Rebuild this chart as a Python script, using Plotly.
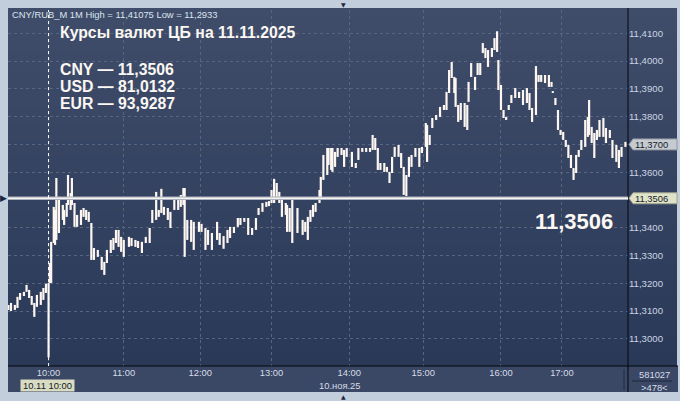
import base64
import struct
import zlib
import plotly.graph_objects as go

# ---------------- data ----------------
bar_index = [0, 2, 5, 7, 9, 12, 14, 16, 18, 20, 22, 25, 27, 29, 31, 32, 33, 35, 36, 37,
             39, 42, 43, 45, 46, 48, 49, 51, 53, 56, 58, 60, 62, 64, 66, 69, 72, 74, 76, 79,
             81, 83, 85, 87, 89, 93, 95, 98, 100, 103, 106, 109, 111, 114, 116, 118, 120, 123, 125, 128,
             131, 133, 135, 136, 138, 141, 143, 147, 149, 152, 154, 157, 161, 163, 166, 169, 171, 174, 177, 179,
             182, 185, 188, 191, 193, 196, 199, 201, 203, 205, 207, 209, 211, 214, 215, 217, 219, 223, 227, 229,
             231, 233, 235, 237, 240, 241, 243, 246, 247, 249, 250, 252, 254, 257, 259, 261, 265, 268, 270, 273,
             276, 279, 281, 283, 285, 287, 290, 292, 294, 296, 298, 301, 303, 305, 307, 309, 311, 314, 317, 319,
             322, 323, 325, 327, 330, 333, 336, 338, 340, 342, 344, 345, 347, 349, 352, 354, 355, 357, 360, 362,
             364, 366, 368, 370, 373, 375, 377, 378, 380, 382, 384, 386, 388, 391, 394, 397, 400, 402, 404, 407,
             409, 411, 414, 417, 419, 420, 422, 424, 426, 428, 430, 432, 434, 436, 438, 440, 442, 445, 447, 448,
             450, 452, 454, 456, 459, 461, 464, 466, 469, 471, 473, 476]

bar_high = [11.3122, 11.3129, 11.3122, 11.3151, 11.3165, 11.3169, 11.3194, 11.3176, 11.3154, 11.3129,
            11.3158, 11.3169, 11.3183, 11.3198, 11.3201, 11.3273, 11.3349, 11.3475, 11.3464, 11.3579,
            11.3511, 11.3482, 11.3464, 11.3489, 11.3590, 11.3525, 11.3579, 11.3489, 11.3446, 11.3464,
            11.3471, 11.3464, 11.3457, 11.3417, 11.3327, 11.3320, 11.3295, 11.3277, 11.3320, 11.3356,
            11.3363, 11.3392, 11.3392, 11.3367, 11.3356, 11.3367, 11.3363, 11.3356, 11.3352, 11.3349,
            11.3367, 11.3399, 11.3464, 11.3529, 11.3464, 11.3540, 11.3475, 11.3471, 11.3457, 11.3504,
            11.3500, 11.3518, 11.3543, 11.3543, 11.3428, 11.3428, 11.3421, 11.3421, 11.3414, 11.3399,
            11.3392, 11.3381, 11.3421, 11.3381, 11.3370, 11.3392, 11.3403, 11.3403, 11.3435, 11.3435,
            11.3435, 11.3435, 11.3399, 11.3435, 11.3471, 11.3489, 11.3493, 11.3496, 11.3536, 11.3576,
            11.3561, 11.3529, 11.3500, 11.3489, 11.3482, 11.3471, 11.3500, 11.3471, 11.3428, 11.3421,
            11.3439, 11.3464, 11.3482, 11.3489, 11.3536, 11.3583, 11.3662, 11.3687, 11.3687, 11.3687,
            11.3687, 11.3673, 11.3687, 11.3687, 11.3680, 11.3687, 11.3673, 11.3633, 11.3687, 11.3687,
            11.3687, 11.3687, 11.3734, 11.3723, 11.3687, 11.3633, 11.3633, 11.3619, 11.3601, 11.3655,
            11.3691, 11.3698, 11.3669, 11.3619, 11.3590, 11.3655, 11.3662, 11.3687, 11.3687, 11.3691,
            11.3777, 11.3770, 11.3734, 11.3795, 11.3806, 11.3835, 11.3842, 11.3889, 11.3968, 11.3997,
            11.3943, 11.3939, 11.3842, 11.3849, 11.3849, 11.3842, 11.3925, 11.3993, 11.3943, 11.3993,
            11.3993, 11.4065, 11.4047, 11.4040, 11.4047, 11.4083, 11.41075, 11.4004, 11.3914, 11.3824,
            11.3799, 11.3842, 11.3878, 11.3903, 11.3889, 11.3896, 11.3903, 11.3885, 11.3831, 11.3982,
            11.3950, 11.3950, 11.3950, 11.3950, 11.3925, 11.3892, 11.3867, 11.3824, 11.3752, 11.3745,
            11.3716, 11.3698, 11.3662, 11.3615, 11.3662, 11.3680, 11.3716, 11.3788, 11.3799, 11.3860,
            11.3763, 11.3741, 11.3752, 11.3788, 11.3795, 11.3759, 11.3752, 11.3716, 11.3698, 11.3680,
            11.3691, 11.3709]

bar_low = [11.3104, 11.3100, 11.3104, 11.3111, 11.3140, 11.3154, 11.3169, 11.3147, 11.3122, 11.3079,
           11.3115, 11.3122, 11.3140, 11.3165, 11.2933, 11.3201, 11.3201, 11.3345, 11.3338, 11.3356,
           11.3381, 11.3428, 11.3410, 11.3439, 11.3482, 11.3464, 11.3482, 11.3403, 11.3403, 11.3410,
           11.3439, 11.3428, 11.3421, 11.3284, 11.3284, 11.3295, 11.3248, 11.3230, 11.3273, 11.3309,
           11.3320, 11.3345, 11.3331, 11.3313, 11.3295, 11.3331, 11.3334, 11.3331, 11.3327, 11.3309,
           11.3345, 11.3345, 11.3417, 11.3428, 11.3439, 11.3453, 11.3446, 11.3428, 11.3399, 11.3464,
           11.3464, 11.3475, 11.3482, 11.3295, 11.3356, 11.3349, 11.3320, 11.3385, 11.3385, 11.3320,
           11.3338, 11.3320, 11.3356, 11.3338, 11.3324, 11.3345, 11.3363, 11.3381, 11.3403, 11.3410,
           11.3421, 11.3374, 11.3374, 11.3392, 11.3446, 11.3457, 11.3475, 11.3478, 11.3489, 11.3489,
           11.3500, 11.3489, 11.3439, 11.3446, 11.3385, 11.3385, 11.3345, 11.3381, 11.3374, 11.3385,
           11.3356, 11.3421, 11.3439, 11.3457, 11.3489, 11.3507, 11.3572, 11.3590, 11.3626, 11.3608,
           11.3601, 11.3619, 11.3655, 11.3662, 11.3619, 11.3655, 11.3619, 11.3615, 11.3644, 11.3673,
           11.3673, 11.3673, 11.3680, 11.3680, 11.3608, 11.3608, 11.3601, 11.3601, 11.3561, 11.3597,
           11.3655, 11.3655, 11.3615, 11.3518, 11.3514, 11.3583, 11.3619, 11.3655, 11.3619, 11.3669,
           11.3691, 11.3637, 11.3698, 11.3759, 11.3788, 11.3799, 11.3824, 11.3824, 11.3885, 11.3939,
           11.3885, 11.3835, 11.3781, 11.3788, 11.3763, 11.3752, 11.3853, 11.3943, 11.3896, 11.3950,
           11.3950, 11.4029, 11.4011, 11.3979, 11.4015, 11.4040, 11.4033, 11.3896, 11.3824, 11.3795,
           11.3788, 11.3824, 11.3849, 11.3867, 11.3867, 11.3842, 11.3849, 11.3824, 11.3781, 11.3806,
           11.3925, 11.3925, 11.3921, 11.3907, 11.3907, 11.3885, 11.3842, 11.3752, 11.3734, 11.3716,
           11.3691, 11.3651, 11.3615, 11.3572, 11.3597, 11.3655, 11.3680, 11.3691, 11.3727, 11.3734,
           11.3705, 11.3651, 11.3716, 11.3727, 11.3727, 11.3705, 11.3723, 11.3651, 11.3637, 11.3615,
           11.3655, 11.3691]

time_tick_index = [31, 89, 148, 203, 263, 320, 380, 427]
time_tick_text = ["10:00", "11:00", "12:00", "13:00", "14:00", "15:00", "16:00", "17:00"]
price_ticks = [11.30, 11.31, 11.32, 11.33, 11.34, 11.35, 11.36, 11.37, 11.38, 11.39, 11.40, 11.41]

instrument = "CNY/RUB_M 1M"
session_high = "11,41075"
session_low = "11,2933"
cbr_date = "11.11.2025"
cbr_codes = ["CNY", "USD", "EUR"]
cbr_values = ["11,3506", "81,0132", "93,9287"]
ref_price = 11.3506
last_price = 11.3700
volume_text = "581027"
bars_text = ">478<"
cursor_index = 31
cursor_text = "10.11 10:00"
date_text = "10.ноя.25"

# ---------------- helpers for layout ----------------
W, H = 680, 401
PL, PR, PT, PB = 8, 628, 10, 366
YMIN, YMAX = 11.2902, 11.4184


def px(x):
    return (x - PL) / (PR - PL)


def py(y):
    return (PB - y) / (PB - PT)


def fmt(v):
    return f"{v:.4f}".replace(".", ",")


def gradient_png(top, bottom, n=64):
    rows = b""
    for k in range(n):
        t = k / (n - 1)
        rgb = [round(a + (c - a) * t) for a, c in zip(top, bottom)]
        rows += b"\x00" + bytes(rgb)

    def chunk(tag, data):
        return (struct.pack(">I", len(data)) + tag + data +
                struct.pack(">I", zlib.crc32(tag + data) & 0xFFFFFFFF))

    ihdr = struct.pack(">IIBBBBB", 1, n, 8, 2, 0, 0, 0)
    png = (b"\x89PNG\r\n\x1a\n" + chunk(b"IHDR", ihdr) +
           chunk(b"IDAT", zlib.compress(rows)) + chunk(b"IEND", b""))
    return "data:image/png;base64," + base64.b64encode(png).decode()


# ---------------- price bars (vertical high-low strokes) ----------------
xs, ys = [], []
for i, h, l in zip(bar_index, bar_high, bar_low):
    xs += [i, i, None]
    ys += [l, h, None]

FONT = "Liberation Sans, Arial, sans-serif"
fig = go.Figure()
fig.add_trace(go.Scatter(x=xs, y=ys, mode="lines", connectgaps=False,
                         line=dict(color="#fdf6f1", width=2.2),
                         hoverinfo="skip", showlegend=False))

shapes = []
# bottom axis band
shapes.append(dict(type="rect", xref="paper", yref="paper", x0=px(8), x1=px(678),
                   y0=py(392), y1=py(366), fillcolor="#3a4765", line_width=0, layer="below"))
# separators
shapes.append(dict(type="line", xref="paper", yref="paper", x0=px(628), x1=px(628),
                   y0=py(392), y1=py(8), line=dict(color="#05070c", width=1)))
shapes.append(dict(type="line", xref="paper", yref="paper", x0=px(8), x1=px(678),
                   y0=py(366), y1=py(366), line=dict(color="#05070c", width=1)))
shapes.append(dict(type="line", xref="paper", yref="paper", x0=px(624), x1=px(624),
                   y0=py(390), y1=py(369), line=dict(color="#222c42", width=1)))
shapes.append(dict(type="line", xref="paper", yref="paper", x0=px(632), x1=px(672),
                   y0=py(381), y1=py(381), line=dict(color="#1e2638", width=1)))
# reference price line
shapes.append(dict(type="line", xref="paper", yref="y", x0=0, x1=1, y0=ref_price, y1=ref_price,
                   line=dict(color="#a9b1c0", width=3.5)))
shapes.append(dict(type="line", xref="paper", yref="y", x0=0, x1=1, y0=ref_price, y1=ref_price,
                   line=dict(color="#f6f2ee", width=1.5)))
# crosshair
shapes.append(dict(type="line", xref="x", yref="paper", x0=cursor_index, x1=cursor_index,
                   y0=0, y1=1, line=dict(color="#ffffff", width=1, dash="dot")))

# price tag boxes on the right axis
hh = 5.5 / 2776


def tag_path(v):
    return (f"M {px(629)},{v} L {px(633)},{v + hh} L {px(677)},{v + hh} "
            f"L {px(677)},{v - hh} L {px(633)},{v - hh} Z")


shapes.append(dict(type="path", xref="paper", yref="y", path=tag_path(last_price),
                   fillcolor="#c6cad1", line=dict(color="#8e949f", width=1)))
shapes.append(dict(type="path", xref="paper", yref="y", path=tag_path(ref_price),
                   fillcolor="#dfe3c9", line=dict(color="#9da38a", width=1)))

ann = []
ann.append(dict(xref="paper", yref="paper", x=px(10), y=py(15), xanchor="left", yanchor="middle",
                text=f"{instrument} High = {session_high} Low = {session_low}",
                font=dict(family=FONT, size=9.4, color="#dde4ee"), showarrow=False))
ann.append(dict(xref="paper", yref="paper", x=px(58), y=py(32), xanchor="left", yanchor="middle",
                text=f"<b>Курсы валют ЦБ на {cbr_date}</b>",
                font=dict(family=FONT, size=15.8, color="#fbf7f3"), showarrow=False))
for k, (c, v) in enumerate(zip(cbr_codes, cbr_values)):
    ann.append(dict(xref="paper", yref="paper", x=px(58), y=py(69 + 17.5 * k),
                    xanchor="left", yanchor="middle", text=f"<b>{c} — {v}</b>",
                    font=dict(family=FONT, size=15.8, color="#fbf7f3"), showarrow=False))
ann.append(dict(xref="paper", yref="paper", x=px(615), y=py(221), xanchor="right", yanchor="middle",
                text=f"<b>{fmt(ref_price)}</b>",
                font=dict(family=FONT, size=22, color="#fbf7f3"), showarrow=False))
for v in (last_price, ref_price):
    ann.append(dict(xref="paper", yref="y", x=px(633), y=v, xanchor="left", yanchor="middle",
                    text=fmt(v), font=dict(family=FONT, size=9.4, color="#141a26"), showarrow=False))
ann.append(dict(xref="paper", yref="paper", x=px(47.5), y=py(385), xanchor="center", yanchor="middle",
                text=cursor_text, font=dict(family=FONT, size=9.4, color="#141a26"),
                bgcolor="#d9dcc3", width=53, height=11, showarrow=False, borderpad=0))
ann.append(dict(xref="paper", yref="paper", x=px(340), y=py(386), xanchor="center", yanchor="middle",
                text=date_text, font=dict(family=FONT, size=9.4, color="#d6dde8"), showarrow=False))
ann.append(dict(xref="paper", yref="paper", x=px(654), y=py(374), xanchor="center", yanchor="middle",
                text=volume_text, font=dict(family=FONT, size=9.4, color="#d6dde8"), showarrow=False))
ann.append(dict(xref="paper", yref="paper", x=px(654), y=py(387.5), xanchor="center", yanchor="middle",
                text=bars_text, font=dict(family=FONT, size=9.4, color="#d6dde8"), showarrow=False))
ann.append(dict(xref="paper", yref="y", x=px(3.5), y=ref_price, xanchor="center", yanchor="middle",
                text="▶", font=dict(family="DejaVu Sans", size=9, color="#1b2741"), showarrow=False))
ann.append(dict(xref="paper", yref="paper", x=px(343), y=py(4), xanchor="center", yanchor="middle",
                text="▼", font=dict(family="DejaVu Sans", size=6, color="#1b2741"), showarrow=False))
ann.append(dict(xref="paper", yref="paper", x=px(343), y=py(396.5), xanchor="center", yanchor="middle",
                text="▲", font=dict(family="DejaVu Sans", size=6, color="#1b2741"), showarrow=False))

# hide the axis labels that sit under the price tags (the tags cover them in the original)
price_tick_text = ["" if abs(t - last_price) < 1e-9 or abs(t - round(ref_price, 2)) < 1e-9 else fmt(t)
                   for t in price_ticks]

fig.update_layout(
    width=W, height=H, autosize=False,
    margin=dict(l=PL, r=W - PR, t=PT, b=H - PB, pad=0),
    paper_bgcolor="#c3cedd",
    plot_bgcolor="rgba(0,0,0,0)",
    separators=",.",
    showlegend=False,
    shapes=shapes,
    annotations=ann,
    images=[dict(source=gradient_png((63, 77, 106), (43, 57, 89)),
                 xref="paper", yref="paper", x=px(8), y=py(8),
                 sizex=px(677) - px(8), sizey=py(8) - py(366),
                 sizing="stretch", layer="below", xanchor="left", yanchor="top")],
    xaxis=dict(range=[-0.3, 478], tickmode="array", tickvals=time_tick_index,
               ticktext=time_tick_text, showgrid=True, gridcolor="#58657f",
               griddash="3px,3px", gridwidth=1, zeroline=False, showline=False,
               ticks="", tickfont=dict(family=FONT, size=9.4, color="#d6dde8")),
    yaxis=dict(range=[YMIN, YMAX], side="right", tickmode="array", tickvals=price_ticks,
               ticktext=price_tick_text, showgrid=True, gridcolor="#58657f", griddash="3px,3px",
               gridwidth=1, zeroline=False, showline=False, ticks="",
               tickfont=dict(family=FONT, size=9.6, color="#cbd5e3")),
)

fig.write_html("out.html", config={"displayModeBar": False, "staticPlot": True},
               post_script="document.body.style.margin='0';document.body.style.overflow='hidden';")
